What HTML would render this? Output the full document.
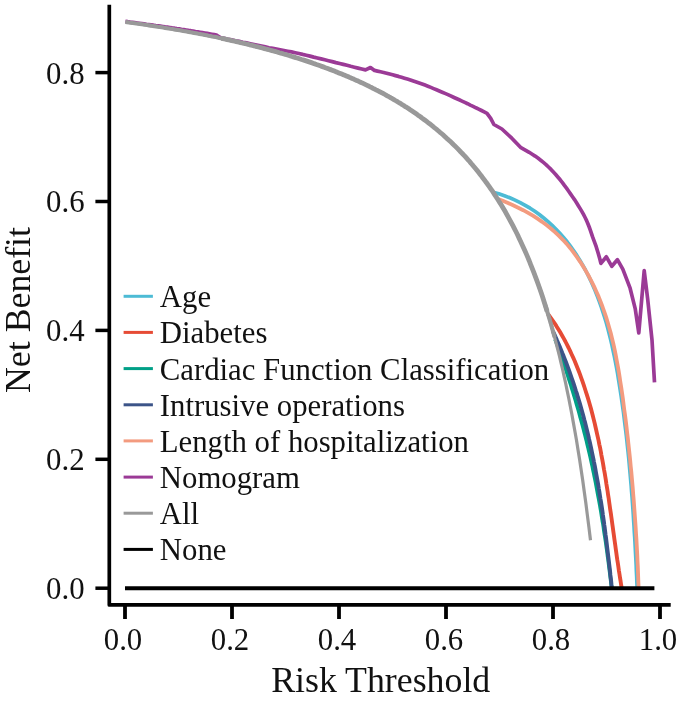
<!DOCTYPE html>
<html lang="en"><head><meta charset="utf-8"><title>Decision curve</title>
<style>
html,body{margin:0;padding:0;background:#fff;}
body{width:685px;height:701px;overflow:hidden;}
svg{display:block;}
text{font-family:"Liberation Serif","Times New Roman",serif;fill:#111;}
.tick{font-size:30.8px;}
.lab{font-size:35.8px;}
.leg{font-size:30.75px;}
</style></head><body>
<svg width="685" height="701" viewBox="0 0 685 701">
<rect width="685" height="701" fill="#ffffff"/>

<g fill="none" stroke-linejoin="round" stroke-linecap="butt">
<polyline stroke="#4DBBD5" stroke-width="3.7" points="493.1,192.2 498.8,193.8 504.4,195.7 509.8,197.8 515.1,200.1 520.2,202.6 525.2,205.3 530.1,208.2 534.8,211.3 539.3,214.5 543.7,218.0 548.0,221.6 552.1,225.3 556.0,229.2 559.8,233.3 563.5,237.5 567.1,241.8 570.4,246.2 573.7,250.8 576.8,255.4 579.8,260.2 582.7,265.1 585.4,270.0 588.0,275.0 590.5,280.1 592.8,285.3 595.1,290.5 597.2,295.8 599.2,301.1 601.1,306.5 602.9,311.9 604.6,317.3 606.3,322.8 607.8,328.3 609.2,333.8 610.6,339.3 611.9,344.9 613.1,350.5 614.3,356.1 615.4,361.7 616.5,367.4 617.5,373.0 618.4,378.7 619.3,384.3 620.2,390.0 621.1,395.6 621.9,401.3 622.7,406.9 623.5,412.6 624.2,418.2 624.9,423.9 625.6,429.5 626.3,435.2 626.9,440.8 627.5,446.5 628.1,452.1 628.7,457.8 629.2,463.4 629.7,469.1 630.2,474.7 630.7,480.4 631.2,486.0 631.6,491.7 632.1,497.4 632.5,503.0 632.9,508.7 633.3,514.3 633.6,520.0 634.0,525.7 634.3,531.3 634.7,537.0 635.0,542.7 635.3,548.4 635.6,554.1 635.9,559.7 636.2,565.4 636.4,571.1 636.7,576.8 636.9,582.5 637.2,588.2"/>
<polyline stroke="#E64B35" stroke-width="3.9" points="547.9,313.8 550.1,316.8 552.2,319.8 554.3,322.8 556.3,325.9 558.2,329.0 560.1,332.1 561.9,335.2 563.7,338.4 565.4,341.5 567.0,344.7 568.7,348.0 570.2,351.2 571.7,354.5 573.2,357.7 574.7,361.0 576.0,364.3 577.4,367.7 578.7,371.0 580.0,374.4 581.2,377.8 582.4,381.2 583.6,384.6 584.7,388.0 585.8,391.5 586.9,394.9 588.0,398.4 589.0,401.8 590.0,405.3 591.0,408.8 591.9,412.3 592.8,415.8 593.7,419.4 594.6,422.9 595.4,426.5 596.2,430.0 597.0,433.6 597.8,437.1 598.6,440.7 599.3,444.3 600.1,447.9 600.8,451.5 601.4,455.1 602.1,458.7 602.8,462.3 603.4,465.9 604.0,469.5 604.7,473.1 605.3,476.8 605.9,480.4 606.4,484.0 607.0,487.6 607.6,491.3 608.1,494.9 608.7,498.5 609.2,502.2 609.7,505.8 610.2,509.4 610.8,513.1 611.3,516.7 611.8,520.3 612.3,523.9 612.8,527.5 613.3,531.2 613.8,534.8 614.3,538.4 614.8,542.0 615.3,545.6 615.8,549.2 616.3,552.8 616.8,556.4 617.3,559.9 617.9,563.5 618.4,567.1 618.9,570.6 619.5,574.2 620.0,577.7 620.6,581.2 621.1,584.7 621.7,588.2"/>
<polyline stroke="#00A087" stroke-width="3.7" points="555.1,339.3 556.3,342.3 557.4,345.4 558.5,348.4 559.5,351.5 560.6,354.5 561.7,357.6 562.8,360.7 563.8,363.7 564.8,366.8 565.9,369.9 566.9,372.9 567.9,376.0 568.9,379.1 569.9,382.2 570.9,385.3 571.8,388.4 572.8,391.5 573.7,394.6 574.7,397.7 575.6,400.8 576.5,403.9 577.4,407.0 578.3,410.1 579.2,413.2 580.0,416.4 580.9,419.5 581.7,422.6 582.6,425.7 583.4,428.9 584.2,432.0 585.0,435.1 585.8,438.3 586.6,441.4 587.3,444.6 588.1,447.7 588.8,450.9 589.6,454.0 590.3,457.2 591.0,460.4 591.7,463.5 592.4,466.7 593.0,469.9 593.7,473.0 594.3,476.2 595.0,479.4 595.6,482.5 596.2,485.7 596.8,488.9 597.4,492.1 598.0,495.3 598.6,498.4 599.2,501.6 599.8,504.8 600.3,508.0 600.9,511.2 601.4,514.4 601.9,517.6 602.4,520.8 603.0,524.0 603.5,527.2 603.9,530.4 604.4,533.6 604.9,536.8 605.4,540.0 605.9,543.2 606.3,546.4 606.8,549.6 607.2,552.9 607.6,556.1 608.1,559.3 608.5,562.5 608.9,565.7 609.3,568.9 609.7,572.1 610.1,575.4 610.5,578.6 610.9,581.8 611.3,585.0 611.7,588.3"/>
<polyline stroke="#3C5488" stroke-width="3.9" points="553.0,331.4 554.4,334.4 555.8,337.5 557.1,340.6 558.5,343.7 559.8,346.8 561.1,349.9 562.3,353.0 563.6,356.1 564.8,359.2 566.0,362.3 567.2,365.5 568.4,368.6 569.5,371.7 570.6,374.9 571.7,378.1 572.8,381.2 573.9,384.4 574.9,387.6 575.9,390.8 577.0,394.0 577.9,397.2 578.9,400.4 579.9,403.6 580.8,406.8 581.7,410.0 582.6,413.2 583.5,416.5 584.3,419.7 585.2,422.9 586.0,426.2 586.8,429.4 587.6,432.7 588.4,435.9 589.1,439.2 589.9,442.5 590.6,445.7 591.3,449.0 592.0,452.3 592.7,455.6 593.4,458.8 594.0,462.1 594.7,465.4 595.3,468.7 595.9,472.0 596.5,475.3 597.1,478.6 597.7,481.9 598.3,485.2 598.8,488.5 599.4,491.9 599.9,495.2 600.4,498.5 601.0,501.8 601.5,505.1 602.0,508.4 602.5,511.8 602.9,515.1 603.4,518.4 603.9,521.7 604.3,525.1 604.8,528.4 605.2,531.7 605.6,535.0 606.1,538.4 606.5,541.7 606.9,545.0 607.3,548.4 607.7,551.7 608.1,555.0 608.5,558.3 608.9,561.7 609.3,565.0 609.7,568.3 610.1,571.6 610.4,575.0 610.8,578.3 611.2,581.6 611.5,584.9 611.9,588.3"/>
<polyline stroke="#F39B7F" stroke-width="3.8" points="497.4,198.8 502.7,200.8 508.0,203.0 513.1,205.3 518.2,207.7 523.2,210.2 528.1,212.9 532.9,215.7 537.5,218.7 542.1,221.8 546.5,225.1 550.8,228.5 555.0,232.1 559.0,235.9 562.9,239.8 566.7,243.9 570.3,248.2 573.7,252.6 577.0,257.2 580.2,261.8 583.3,266.6 586.1,271.4 588.9,276.3 591.5,281.3 594.0,286.4 596.3,291.5 598.6,296.6 600.6,301.8 602.6,307.0 604.4,312.2 606.2,317.4 607.8,322.7 609.3,328.0 610.8,333.3 612.1,338.7 613.4,344.0 614.6,349.4 615.7,354.8 616.7,360.3 617.7,365.7 618.7,371.2 619.6,376.7 620.4,382.2 621.3,387.7 622.1,393.3 622.9,398.8 623.6,404.4 624.3,409.9 625.1,415.5 625.8,421.1 626.5,426.7 627.1,432.3 627.8,437.9 628.4,443.6 629.0,449.2 629.6,454.8 630.2,460.4 630.7,466.1 631.3,471.7 631.8,477.3 632.3,483.0 632.8,488.6 633.2,494.2 633.7,499.8 634.1,505.4 634.5,511.0 634.9,516.6 635.3,522.2 635.7,527.8 636.0,533.4 636.4,538.9 636.7,544.5 637.0,550.0 637.3,555.5 637.5,561.0 637.8,566.5 638.0,572.0 638.2,577.4 638.4,582.8 638.6,588.2"/>
<polyline stroke="#9B3A96" stroke-width="3.7" points="125.4,21.4 127.7,21.7 130.1,22.1 132.4,22.4 134.7,22.7 137.1,23.0 139.4,23.3 141.8,23.6 144.1,23.9 146.4,24.3 148.8,24.6 151.1,24.9 153.4,25.2 155.8,25.6 158.1,25.9 160.4,26.2 162.8,26.5 165.1,26.9 167.4,27.2 169.8,27.5 172.1,27.9 174.5,28.2 176.8,28.6 179.1,28.9 181.5,29.3 183.8,29.6 186.1,30.0 188.5,30.4 190.8,30.7 193.1,31.1 195.5,31.5 197.8,31.8 200.1,32.2 202.5,32.6 204.8,33.0 207.2,33.4 209.5,33.8 211.8,34.2 214.2,34.6 216.5,35.0 218.3,36.4 220.5,37.7 224.2,38.4 228.0,39.2 231.7,39.9 235.4,40.7 239.2,41.4 242.9,42.2 246.6,42.9 250.4,43.7 254.1,44.5 257.8,45.3 261.5,46.1 265.3,46.9 269.0,47.7 272.7,48.4 276.5,49.1 280.2,49.8 284.0,50.5 287.7,51.2 291.5,51.9 295.2,52.7 298.9,53.5 302.6,54.4 306.3,55.2 310.0,56.1 313.7,57.1 317.4,58.0 321.1,58.9 324.8,59.8 328.5,60.7 332.2,61.6 335.9,62.6 339.6,63.5 343.3,64.4 347.0,65.3 350.7,66.3 354.4,67.2 358.1,68.1 361.8,69.0 365.5,69.9 370.5,67.5 374.5,70.4 377.5,71.1 380.5,71.8 383.6,72.5 386.6,73.2 389.6,74.0 392.6,74.8 395.5,75.6 398.5,76.4 401.5,77.3 404.5,78.2 407.4,79.1 410.4,80.0 413.3,81.0 416.3,82.0 419.2,83.0 422.1,84.0 425.0,85.1 427.9,86.2 430.8,87.4 433.6,88.6 436.5,89.8 439.3,91.0 442.2,92.2 445.0,93.4 447.9,94.6 450.7,95.9 453.5,97.2 456.3,98.5 459.2,99.8 462.0,101.1 464.8,102.4 467.6,103.7 470.3,105.1 473.1,106.4 475.9,107.8 478.7,109.1 481.5,110.5 484.2,111.9 487.0,113.3 490.7,118.3 493.9,124.5 501.9,129.0 511.8,138.2 520.5,147.3 529.2,152.3 532.2,154.2 535.1,156.1 537.9,158.1 540.7,160.2 543.4,162.4 546.0,164.6 548.5,167.0 551.0,169.4 553.4,172.0 555.7,174.5 558.0,177.2 560.2,179.8 562.4,182.6 564.4,185.4 566.5,188.2 568.5,191.0 570.5,193.8 572.5,196.7 574.5,199.6 576.4,202.5 578.2,205.4 580.0,208.4 581.8,211.4 583.5,214.4 585.1,217.5 586.6,220.6 587.9,223.8 589.2,227.0 590.4,230.3 591.5,233.6 592.6,236.9 593.8,240.2 595.0,243.4 596.2,246.7 597.2,250.0 598.2,253.3 599.2,256.7 600.1,260.0 600.9,263.4 606.4,256.8 611.8,266.3 617.4,259.7 622.8,269.2 630.1,288.2 635.2,308.6 638.8,332.9 644.2,270.6 647.6,298.4 652.0,340.0 654.5,382.4"/>
<polyline stroke="#999999" stroke-width="4.1" points="125.5,21.9 127.3,22.2 129.1,22.5 130.9,22.7 132.8,23.0 134.6,23.2 136.4,23.5 138.2,23.7 140.0,24.0 141.8,24.3 143.6,24.5 145.4,24.8 147.2,25.1 149.0,25.4 150.8,25.6 152.6,25.9 154.4,26.2 156.2,26.5 158.0,26.8 159.8,27.0 161.6,27.3 163.4,27.6 165.2,27.9 167.0,28.2 168.8,28.5 170.6,28.8 172.5,29.1 174.3,29.4 176.1,29.7 177.9,30.0 179.7,30.3 181.5,30.6 183.3,31.0 185.1,31.3 186.9,31.6 188.7,31.9 190.5,32.3 192.3,32.6 194.1,32.9 195.9,33.2 197.7,33.6 199.5,33.9 201.3,34.3 203.1,34.6 204.9,35.0 206.7,35.3 208.5,35.7 210.3,36.0 212.2,36.4 214.0,36.7 215.8,37.1 217.6,37.5 219.4,37.9 221.2,38.2 223.0,38.6 224.8,39.0 226.6,39.4 228.4,39.8 230.2,40.2 232.0,40.6"/>
<polyline stroke="#999999" stroke-width="4.8" points="221.3,38.3 222.8,38.6 224.3,38.9 225.8,39.2 227.3,39.6 228.7,39.9 230.2,40.2 231.7,40.6 233.2,40.9 234.7,41.2 236.2,41.6 237.7,41.9 239.2,42.3 240.6,42.6 242.1,43.0 243.6,43.3 245.1,43.7 246.6,44.0 248.1,44.4 249.6,44.8 251.1,45.1 252.5,45.5 254.0,45.9 255.5,46.3 257.0,46.6 258.5,47.0 260.0,47.4 261.5,47.8 263.0,48.2 264.4,48.6 265.9,49.0 267.4,49.4 268.9,49.8 270.4,50.2 271.9,50.6 273.4,51.0 274.9,51.4 276.3,51.8 277.8,52.2 279.3,52.7 280.8,53.1 282.3,53.5 283.8,54.0 285.3,54.4 286.8,54.8 288.2,55.3 289.7,55.7 291.2,56.2 292.7,56.6 294.2,57.1 295.7,57.6 297.2,58.0 298.7,58.5 300.2,59.0 301.6,59.5 303.1,59.9 304.6,60.4 306.1,60.9 307.6,61.4 309.1,61.9 310.6,62.4 312.1,62.9 313.5,63.4 315.0,63.9 316.5,64.5 318.0,65.0 319.5,65.5 321.0,66.1 322.5,66.6 324.0,67.1 325.4,67.7 326.9,68.2 328.4,68.8 329.9,69.4 331.4,69.9 332.9,70.5 334.4,71.1 335.9,71.7 337.3,72.3 338.8,72.9 340.3,73.5 341.8,74.1 343.3,74.7 344.8,75.3 346.3,75.9 347.8,76.5 349.2,77.2 350.7,77.8 352.2,78.5 353.7,79.1 355.2,79.8 356.7,80.5 358.2,81.1 359.7,81.8 361.1,82.5 362.6,83.2 364.1,83.9 365.6,84.6 367.1,85.3 368.6,86.0 370.1,86.8 371.6,87.5 373.0,88.3 374.5,89.0 376.0,89.8 377.5,90.5 379.0,91.3 380.5,92.1 382.0,92.9 383.5,93.7 385.0,94.5 386.4,95.3 387.9,96.2 389.4,97.0 390.9,97.9 392.4,98.7 393.9,99.6 395.4,100.5 396.9,101.3 398.3,102.2 399.8,103.1 401.3,104.1 402.8,105.0 404.3,105.9 405.8,106.9 407.3,107.8 408.8,108.8 410.2,109.8 411.7,110.8 413.2,111.8 414.7,112.8 416.2,113.8 417.7,114.9 419.2,115.9 420.7,117.0 422.1,118.1 423.6,119.2 425.1,120.3 426.6,121.4 428.1,122.6 429.6,123.7 431.1,124.9 432.6,126.1 434.0,127.3 435.5,128.5 437.0,129.7 438.5,131.0 440.0,132.3 441.5,133.5 443.0,134.8 444.5,136.2 445.9,137.5 447.4,138.9 448.9,140.2 450.4,141.6 451.9,143.0 453.4,144.5 454.9,145.9 456.4,147.4 457.9,148.9 459.3,150.4 460.8,152.0 462.3,153.5 463.8,155.1 465.3,156.7 466.8,158.4 468.3,160.1 469.8,161.7 471.2,163.5 472.7,165.2 474.2,167.0 475.7,168.8 477.2,170.6 478.7,172.5 480.2,174.4 481.7,176.3 483.1,178.3 484.6,180.2 486.1,182.3 487.6,184.3 489.1,186.4 490.6,188.6 492.1,190.7 493.6,192.9 495.0,195.2 496.5,197.5 498.0,199.8 499.5,202.2 501.0,204.6 502.5,207.1 504.0,209.6 505.5,212.1 506.9,214.7 508.4,217.4 509.9,220.1 511.4,222.9 512.9,225.7 514.4,228.6 515.9,231.5 517.4,234.5 518.8,237.6 520.3,240.7 521.8,243.9 523.3,247.2 524.8,250.5 526.3,253.9 527.8,257.4 529.3,261.0 530.7,264.7 532.2,268.4 533.7,272.2 535.2,276.1 536.7,280.1 538.2,284.3 539.7,288.5 541.2,292.8 542.7,297.2 544.1,301.7 545.6,306.4 547.1,311.2"/>
<polyline stroke="#999999" stroke-width="4.1" points="545.0,304.3 545.3,305.4 545.6,306.4 546.0,307.5 546.3,308.6 546.6,309.6 547.0,310.7 547.3,311.8 547.6,312.9 548.0,314.0 548.3,315.1 548.6,316.2 549.0,317.3 549.3,318.4 549.6,319.5 550.0,320.7 550.3,321.8 550.6,323.0 551.0,324.1 551.3,325.3 551.6,326.4 551.9,327.6 552.3,328.8 552.6,330.0 552.9,331.2 553.3,332.4 553.6,333.6 553.9,334.8 554.3,336.1 554.6,337.3"/>
<polyline stroke="#999999" stroke-width="3.2" points="125.5,21.9 127.1,22.2 128.6,22.4 130.2,22.6 131.8,22.8 133.3,23.0 134.9,23.3 136.4,23.5 138.0,23.7 139.5,23.9 141.1,24.2 142.6,24.4 144.2,24.6 145.7,24.9 147.3,25.1 148.9,25.3 150.4,25.6 152.0,25.8 153.5,26.1 155.1,26.3 156.6,26.5 158.2,26.8 159.7,27.0 161.3,27.3 162.9,27.5 164.4,27.8 166.0,28.0 167.5,28.3 169.1,28.5 170.6,28.8 172.2,29.1 173.7,29.3 175.3,29.6 176.8,29.8 178.4,30.1 180.0,30.4 181.5,30.7 183.1,30.9 184.6,31.2 186.2,31.5 187.7,31.8 189.3,32.0 190.8,32.3 192.4,32.6 194.0,32.9 195.5,33.2 197.1,33.5 198.6,33.8 200.2,34.0 201.7,34.3 203.3,34.6 204.8,34.9 206.4,35.2 207.9,35.5 209.5,35.9 211.1,36.2 212.6,36.5 214.2,36.8 215.7,37.1 217.3,37.4 218.8,37.7 220.4,38.1 221.9,38.4 223.5,38.7 225.0,39.1 226.6,39.4 228.2,39.8 229.7,40.1 231.3,40.5 232.8,40.8 234.4,41.2 235.9,41.5 237.5,41.9 239.0,42.2 240.6,42.6 242.2,43.0 243.7,43.3 245.3,43.7 246.8,44.1 248.4,44.5 249.9,44.9 251.5,45.2 253.0,45.6 254.6,46.0 256.1,46.4 257.7,46.8 259.3,47.2 260.8,47.6 262.4,48.0 263.9,48.4 265.5,48.8 267.0,49.3 268.6,49.7 270.1,50.1 271.7,50.5 273.3,51.0 274.8,51.4 276.4,51.8 277.9,52.3 279.5,52.7 281.0,53.2 282.6,53.6 284.1,54.1 285.7,54.5 287.2,55.0 288.8,55.4 290.4,55.9 291.9,56.4 293.5,56.9 295.0,57.4 296.6,57.8 298.1,58.3 299.7,58.8 301.2,59.3 302.8,59.8 304.3,60.3 305.9,60.8 307.5,61.4 309.0,61.9 310.6,62.4 312.1,62.9 313.7,63.5 315.2,64.0 316.8,64.6 318.3,65.1 319.9,65.7 321.5,66.2 323.0,66.8 324.6,67.4 326.1,67.9 327.7,68.5 329.2,69.1 330.8,69.7 332.3,70.3 333.9,70.9 335.4,71.5 337.0,72.1 338.6,72.7 340.1,73.4 341.7,74.0 343.2,74.6 344.8,75.3 346.3,75.9 347.9,76.6 349.4,77.3 351.0,77.9 352.6,78.6 354.1,79.3 355.7,80.0 357.2,80.7 358.8,81.4 360.3,82.1 361.9,82.8 363.4,83.6 365.0,84.3 366.5,85.1 368.1,85.8 369.7,86.6 371.2,87.3 372.8,88.1 374.3,88.9 375.9,89.7 377.4,90.5 379.0,91.3 380.5,92.1 382.1,93.0 383.6,93.8 385.2,94.7 386.8,95.5 388.3,96.4 389.9,97.3 391.4,98.1 393.0,99.0 394.5,100.0 396.1,100.9 397.6,101.8 399.2,102.8 400.8,103.7 402.3,104.7 403.9,105.7 405.4,106.6 407.0,107.6 408.5,108.7 410.1,109.7 411.6,110.7 413.2,111.8 414.7,112.8 416.3,113.9 417.9,115.0 419.4,116.1 421.0,117.2 422.5,118.4 424.1,119.5 425.6,120.7 427.2,121.9 428.7,123.1 430.3,124.3 431.9,125.5 433.4,126.8 435.0,128.0 436.5,129.3 438.1,130.6 439.6,131.9 441.2,133.3 442.7,134.6 444.3,136.0 445.8,137.4 447.4,138.8 449.0,140.3 450.5,141.7 452.1,143.2 453.6,144.7 455.2,146.2 456.7,147.8 458.3,149.3 459.8,150.9 461.4,152.6 462.9,154.2 464.5,155.9 466.1,157.6 467.6,159.3 469.2,161.1 470.7,162.9 472.3,164.7 473.8,166.5 475.4,168.4 476.9,170.3 478.5,172.2 480.1,174.2 481.6,176.2 483.2,178.3 484.7,180.4 486.3,182.5 487.8,184.6 489.4,186.8 490.9,189.1 492.5,191.3 494.0,193.7 495.6,196.0 497.2,198.4 498.7,200.9 500.3,203.4 501.8,206.0 503.4,208.6 504.9,211.2 506.5,213.9 508.0,216.7 509.6,219.5 511.2,222.4 512.7,225.3 514.3,228.3 515.8,231.4 517.4,234.5 518.9,237.7 520.5,241.0 522.0,244.4 523.6,247.8 525.1,251.3 526.7,254.9 528.3,258.6 529.8,262.3 531.4,266.2 532.9,270.1 534.5,274.2 536.0,278.3 537.6,282.6 539.1,286.9 540.7,291.4 542.2,296.0 543.8,300.7 545.4,305.5 546.9,310.5 548.5,315.6 550.0,320.9 551.6,326.3 553.1,331.9 554.7,337.6 556.2,343.5 557.8,349.6 559.4,355.9 560.9,362.3 562.5,369.0 564.0,375.9 565.6,383.0 567.1,390.4 568.7,398.0 570.2,405.8 571.8,414.0 573.3,422.4 574.9,431.2 576.5,440.2 578.0,449.7 579.6,459.4 581.1,469.6 582.7,480.2 584.2,491.2 585.8,502.7 587.3,514.6 588.9,527.1 590.5,540.2"/>
<line x1="125.0" y1="588.3" x2="654.4" y2="588.3" stroke="#000" stroke-width="4"/>
</g>
<g stroke="#000" stroke-width="3.7" fill="none" stroke-linecap="butt">
<polyline points="109.3,4.8 109.3,604.9 670.7,604.9" stroke-linejoin="round"/>
</g>
<g stroke="#000" stroke-width="3.5" fill="none">
<line x1="95.4" y1="588.2" x2="108" y2="588.2"/>
<line x1="95.4" y1="459.3" x2="108" y2="459.3"/>
<line x1="95.4" y1="330.4" x2="108" y2="330.4"/>
<line x1="95.4" y1="201.5" x2="108" y2="201.5"/>
<line x1="95.4" y1="72.6" x2="108" y2="72.6"/>
</g><g stroke="#000" stroke-width="3.8" fill="none">
<line x1="125.0" y1="606" x2="125.0" y2="619"/>
<line x1="232.0" y1="606" x2="232.0" y2="619"/>
<line x1="339.0" y1="606" x2="339.0" y2="619"/>
<line x1="446.0" y1="606" x2="446.0" y2="619"/>
<line x1="553.0" y1="606" x2="553.0" y2="619"/>
<line x1="660.0" y1="606" x2="660.0" y2="619"/>
</g>
<text class="tick" x="84.6" y="599.1" text-anchor="end">0.0</text>
<text class="tick" x="84.6" y="470.2" text-anchor="end">0.2</text>
<text class="tick" x="84.6" y="341.3" text-anchor="end">0.4</text>
<text class="tick" x="84.6" y="212.4" text-anchor="end">0.6</text>
<text class="tick" x="84.6" y="83.5" text-anchor="end">0.8</text>
<text class="tick" x="123.0" y="649.6" text-anchor="middle">0.0</text>
<text class="tick" x="230.0" y="649.6" text-anchor="middle">0.2</text>
<text class="tick" x="337.0" y="649.6" text-anchor="middle">0.4</text>
<text class="tick" x="444.0" y="649.6" text-anchor="middle">0.6</text>
<text class="tick" x="551.0" y="649.6" text-anchor="middle">0.8</text>
<text class="tick" x="658.0" y="649.6" text-anchor="middle">1.0</text>
<text class="lab" transform="translate(380.7,692.3)" text-anchor="middle">Risk Threshold</text>
<text class="lab" transform="translate(30.4,310.0) rotate(-90)" text-anchor="middle">Net Benefit</text>
<line x1="123.6" y1="296.3" x2="152.9" y2="296.3" stroke="#4DBBD5" stroke-width="3"/>
<text class="leg" transform="translate(159.8,307.2)" text-anchor="start">Age</text>
<line x1="123.6" y1="332.4" x2="152.9" y2="332.4" stroke="#E64B35" stroke-width="3"/>
<text class="leg" transform="translate(159.8,343.3)" text-anchor="start">Diabetes</text>
<line x1="123.6" y1="368.6" x2="152.9" y2="368.6" stroke="#00A087" stroke-width="3"/>
<text class="leg" transform="translate(159.8,379.5)" text-anchor="start">Cardiac Function Classification</text>
<line x1="123.6" y1="404.8" x2="152.9" y2="404.8" stroke="#3C5488" stroke-width="3"/>
<text class="leg" transform="translate(159.8,415.6)" text-anchor="start">Intrusive operations</text>
<line x1="123.6" y1="440.9" x2="152.9" y2="440.9" stroke="#F39B7F" stroke-width="3"/>
<text class="leg" transform="translate(159.8,451.8)" text-anchor="start">Length of hospitalization</text>
<line x1="123.6" y1="477.1" x2="152.9" y2="477.1" stroke="#9B3A96" stroke-width="3"/>
<text class="leg" transform="translate(159.8,487.9)" text-anchor="start">Nomogram</text>
<line x1="123.6" y1="513.2" x2="152.9" y2="513.2" stroke="#999999" stroke-width="3"/>
<text class="leg" transform="translate(159.8,524.1)" text-anchor="start">All</text>
<line x1="123.6" y1="549.4" x2="152.9" y2="549.4" stroke="#000000" stroke-width="3"/>
<text class="leg" transform="translate(159.8,560.2)" text-anchor="start">None</text>
</svg></body></html>
